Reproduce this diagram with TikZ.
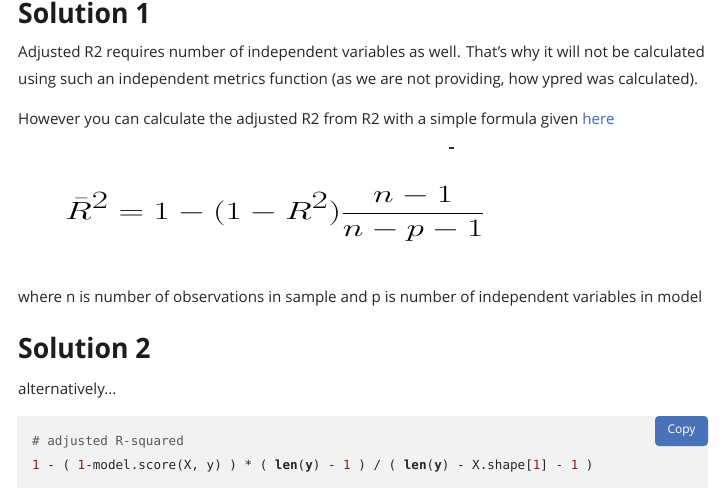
\documentclass[tikz,border=0pt]{standalone}
\usepackage{graphicx}
\usepackage{fontspec}
\setmainfont{Open Sans}
\newfontfamily\codefont{DejaVu Sans Mono}
\definecolor{bodycol}{HTML}{262626}
\definecolor{headcol}{HTML}{1C1C1C}
\definecolor{linkcol}{HTML}{3E6DB5}
\definecolor{codebg}{HTML}{F2F2F2}
\definecolor{numcol}{HTML}{A31515}
\definecolor{btncol}{HTML}{4A72B9}
\newcommand{\headtext}[1]{\scalebox{0.95}[1]{#1}}
\begin{document}
\begin{tikzpicture}[x=1pt,y=-1pt,
  txt/.style={anchor=base west,inner sep=0pt,text=bodycol,font=\fontsize{15.15}{18}\selectfont},
  heading/.style={anchor=base west,inner sep=0pt,text=headcol,font=\fontsize{28}{32}\selectfont\bfseries},
  codeline/.style={anchor=base west,inner sep=0pt,text=bodycol,font=\codefont\fontsize{12.6}{15}\selectfont},
  ]
  \useasboundingbox[fill=white] (0,0) rectangle (722,496);
%%
  % Text: Solution 1
  \node[heading] (head1) at (18,23) {\headtext{Solution 1}};
  \node[txt] (para1a) at (18,57) {Adjusted R2 requires number of independent variables as well. That's why it will not be calculated};
  \node[txt] (para1b) at (18,84) {using such an independent metrics function (as we are not providing, how ypred was calculated).};
  \node[txt] (para2) at (18,124) {However you can calculate the adjusted R2 from R2 with a simple formula given \textcolor{linkcol}{here}};
  \fill[black!80] (449,147) rectangle (454,149);
  % Formula
  \node[anchor=base west,inner sep=0pt,font=\fontsize{36}{42}\selectfont] (formula) at (65,219)
    {\scalebox{1.42}[1]{$\displaystyle \bar{R}^{2} = 1-(1-R^2)\frac{n-1}{n-p-1}$}};
  \node[txt] (para3) at (18,302) {where n is number of observations in sample and p is number of independent variables in model};
  % Text: Solution 2
  \node[heading] (head2) at (18,358) {\headtext{Solution 2}};
  \node[txt] (para4) at (18,394) {alternatively...};
  % Code block
  \fill[codebg] (17,416) rectangle (708,488);
  \node[codeline,text=black!65] (code1) at (32,445) {\# adjusted R-squared};
  \node[codeline] (code2) at (32,469) {\textcolor{numcol}{1} - ( \textcolor{numcol}{1}-model.score(X, y) ) * ( \textbf{len}(\textbf{y}) - \textcolor{numcol}{1} ) / ( \textbf{len}(\textbf{y}) - X.shape[\textcolor{numcol}{1}] - \textcolor{numcol}{1} )};
  % Node: Copy
  \node[fill=btncol,rounded corners=4pt,text=white,font=\fontsize{12}{14}\selectfont,
        minimum width=53pt,minimum height=30pt,inner sep=0pt] (copy) at (681.5,431) {Copy};
%
\end{tikzpicture}
\end{document}
